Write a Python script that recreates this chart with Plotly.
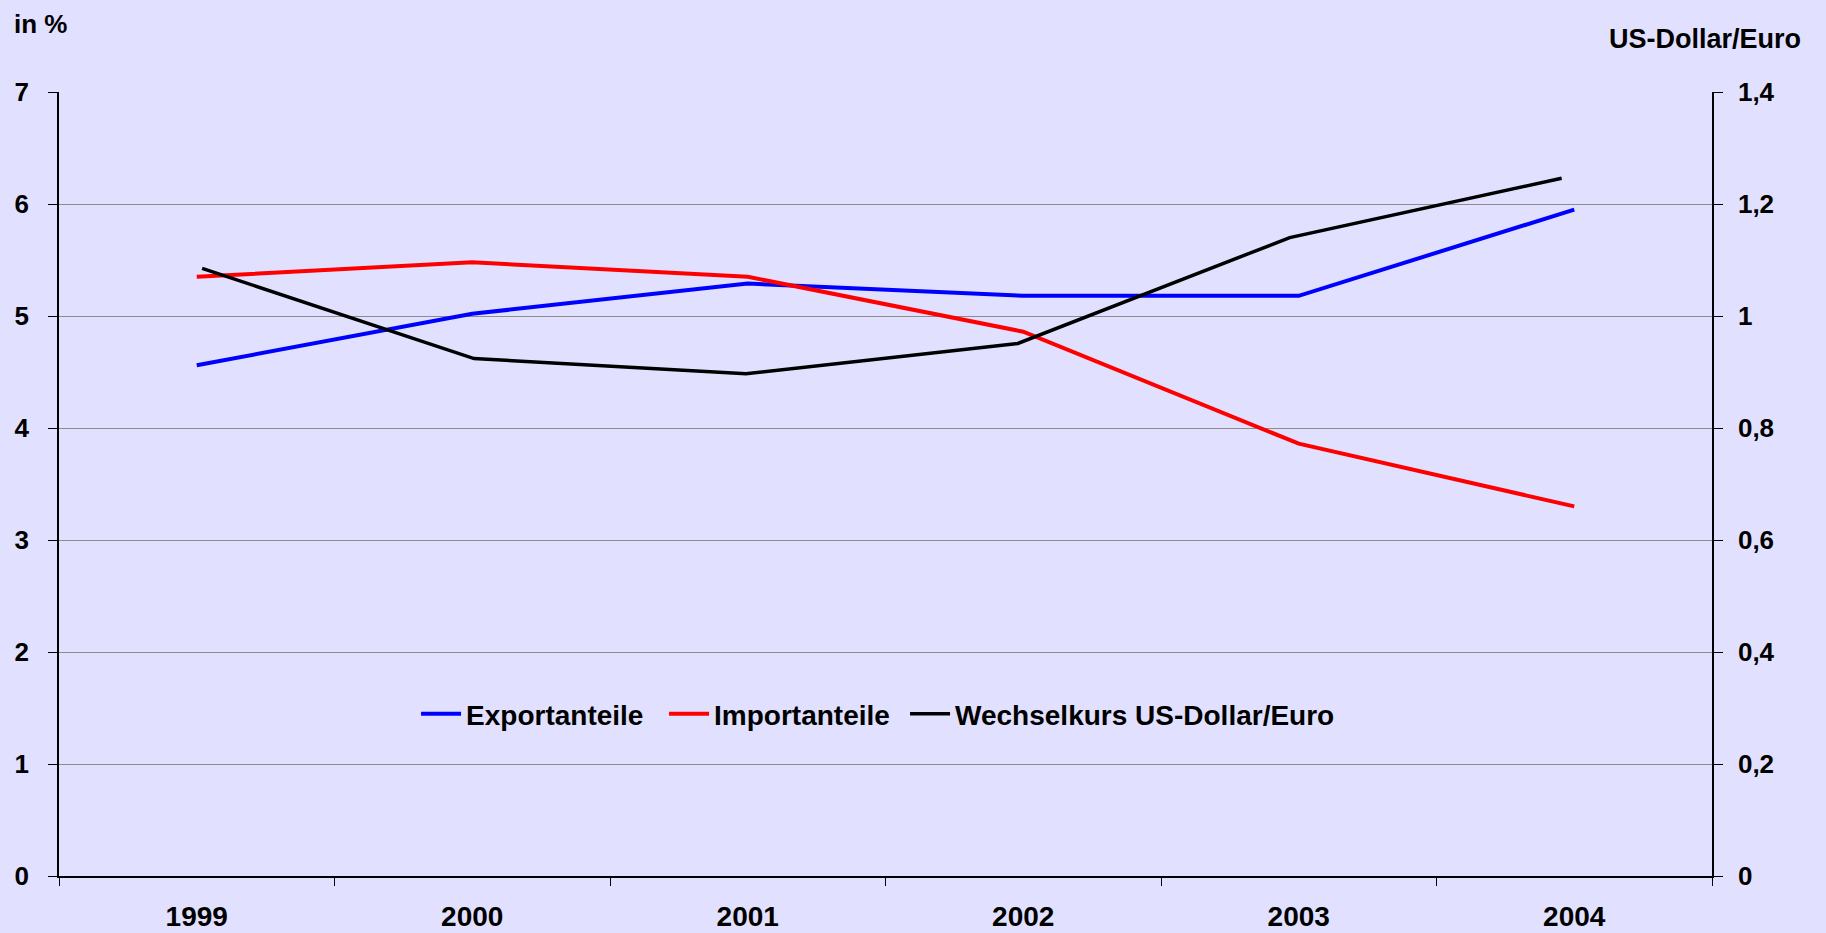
import plotly.graph_objects as go

years = ["1999", "2000", "2001", "2002", "2003", "2004"]
exportanteile = [4.56, 5.02, 5.29, 5.18, 5.18, 5.95]
importanteile = [5.35, 5.48, 5.35, 4.86, 3.86, 3.30]
wechselkurs = [1.085, 0.924, 0.897, 0.951, 1.14, 1.246]

left_ticks = [0, 1, 2, 3, 4, 5, 6, 7]
right_ticks = [0, 0.2, 0.4, 0.6, 0.8, 1.0, 1.2, 1.4]

BG = "#E1E1FF"
FONT = "Liberation Sans, Arial, sans-serif"

fig = go.Figure()
fig.add_trace(go.Scatter(x=years, y=exportanteile, mode="lines", name="Exportanteile",
                         line=dict(color="#0000FF", width=4), xaxis="x", yaxis="y",
                         legendwidth=193))
fig.add_trace(go.Scatter(x=years, y=importanteile, mode="lines", name="Importanteile",
                         line=dict(color="#FF0000", width=4), xaxis="x", yaxis="y",
                         legendwidth=186))
fig.add_trace(go.Scatter(x=years, y=wechselkurs, mode="lines", name="Wechselkurs US-Dollar/Euro",
                         line=dict(color="#000000", width=3.5), xaxis="x2", yaxis="y2"))

fig.update_layout(
    width=1826, height=933,
    margin=dict(l=59, r=114, t=92, b=57, autoexpand=False),
    paper_bgcolor=BG, plot_bgcolor=BG,
    separators=",.",
    font=dict(family=FONT, size=26, color="#000000", weight="bold"),
    showlegend=True,
    legend=dict(orientation="h", x=0.216, y=0.2066, xanchor="left", yanchor="middle",
                bgcolor="rgba(0,0,0,0)", font=dict(size=28, family=FONT, weight="bold"),
                itemwidth=40),
    xaxis=dict(type="category", range=[-0.5, 5.5], tickson="boundaries", ticks="outside",
               ticklen=8, tickcolor="#000000", showgrid=False, showline=True,
               linecolor="#000000", linewidth=1.5, zeroline=False, automargin=False,
               tickfont=dict(size=28, family=FONT, weight="bold"), ticklabelstandoff=15),
    xaxis2=dict(type="category", overlaying="x", range=[-0.5265, 5.553], visible=False,
                anchor="y", automargin=False),
    yaxis=dict(range=[0, 7], tickvals=left_ticks, ticks="outside", ticklen=9,
               tickcolor="#000000", showgrid=True, gridcolor="#8C8C8C", gridwidth=1,
               showline=True, linecolor="#000000", linewidth=1.5, zeroline=False,
               automargin=False,
               tickfont=dict(size=26, family=FONT, weight="bold"), ticklabelstandoff=14),
    yaxis2=dict(range=[0, 1.4], tickvals=right_ticks, overlaying="y", side="right",
                anchor="x", ticks="outside", ticklen=9, tickcolor="#000000",
                showgrid=False, showline=True, linecolor="#000000", linewidth=1.5,
                zeroline=False, automargin=False,
                tickfont=dict(size=26, family=FONT, weight="bold"),
                ticklabelstandoff=10),
    yaxis3=dict(range=[0, 1.4], tickvals=right_ticks, overlaying="y", side="right",
                anchor="x", ticks="inside", ticklen=9, tickcolor="#000000",
                showgrid=False, showline=False, zeroline=False, showticklabels=False,
                automargin=False),
    annotations=[
        dict(text="in %", xref="paper", yref="paper", x=-0.0285, y=1.0867,
             xanchor="left", yanchor="middle", showarrow=False,
             font=dict(size=26, family=FONT, weight="bold")),
        dict(text="US-Dollar/Euro", xref="paper", yref="paper", x=0.9958, y=1.068,
             xanchor="center", yanchor="middle", showarrow=False,
             font=dict(size=27, family=FONT, weight="bold")),
    ],
)

fig.write_html(
    "out.html",
    config={"displayModeBar": False},
    post_script="document.body.style.margin='0';document.body.style.background='#E1E1FF';",
)
